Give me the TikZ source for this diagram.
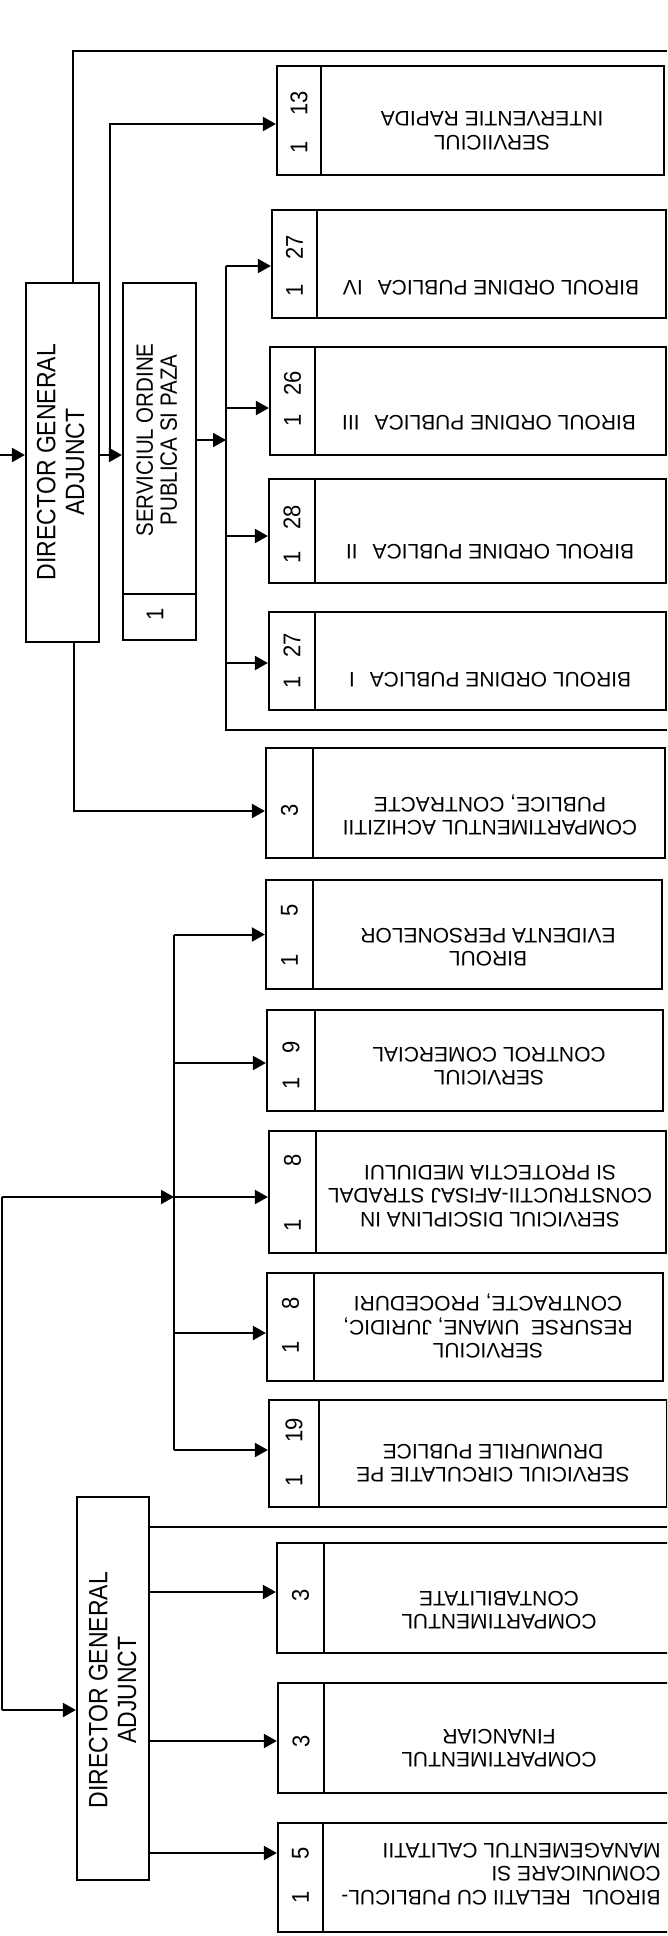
\documentclass[tikz,border=0pt]{standalone}
\usepackage{fontspec}
\setmainfont{Liberation Sans}
\usetikzlibrary{arrows.meta,fit,calc}
\newcommand\boxfont{\fontsize{21}{23.5}\selectfont}
\newcommand\dgfont{\fontsize{23}{25}\selectfont}
\newcommand\sopfont{\fontsize{20.5}{21}\selectfont}
\newcommand\numfont{\fontsize{22}{24}\selectfont}
\newcommand\vstretch[2]{\scalebox{1}[#1]{\begin{tabular}{@{}c@{}}#2\end{tabular}}}
\newcommand\orgbox[6]{%
  \node[ubox, fit={(#2,#4) (#3,#5)}] (#1) {};
  \draw[ubline] (#6,#4) -- (#6,#5);}
\newcommand\busarrow[3]{%
  \coordinate (#1t) at ([yshift=#3]#1.west);
  \draw[arr] (#1t -| #2) -- (#1t);}
\begin{document}
\begin{tikzpicture}[x=1pt,y=-1pt,
  ubox/.style={draw,line width=2.2pt,inner sep=0pt},
  ubline/.style={line width=2pt},
  conn/.style={line width=2pt},
  arr/.style={conn,-{Triangle[length=13pt,width=14pt]}},
  btext/.style={rotate=180,font=\boxfont,align=center,inner sep=0pt},
  btextl/.style={rotate=180,font=\boxfont,align=left,inner sep=0pt},
  numst/.style={rotate=90,font=\numfont,inner sep=0pt},
  dgst/.style={rotate=90,font=\dgfont,inner sep=0pt},
  sopst/.style={rotate=90,font=\sopfont,inner sep=0pt}]
\useasboundingbox (0,0) rectangle (667,1936);
\clip (0,0) rectangle (667,1936);
\fill[white] (0,0) rectangle (667,1936);

% director boxes
\node[ubox, fit={(26,283) (99,642)}] (dg1) {};
\node[dgst] (dg1t) at (64,462) {\vstretch{1.15}{DIRECTOR GENERAL\\ADJUNCT}};
\node[ubox, fit={(77,1497) (149,1880)}] (dg2) {};
\node[dgst] (dg2t) at (116,1690) {\vstretch{1.15}{DIRECTOR GENERAL\\ADJUNCT}};

% serviciul ordine publica si paza
\node[ubox, fit={(123,283) (196,640)}] (sop) {};
\draw[ubline] (123,594) -- (196,594);
\node[sopst] (sopt) at (160,440) {\vstretch{1.15}{SERVICIUL ORDINE\\PUBLICA SI PAZA}};
\node[numst] (sopn) at (155,614) {\scalebox{1}[1.1]{1}};

% subordinate boxes
\orgbox{sir}{277}{664}{66}{175}{321}
\orgbox{bop4}{272}{666}{210}{318}{317}
\orgbox{bop3}{270}{666}{347}{455}{315}
\orgbox{bop2}{269}{666}{479}{583}{315}
\orgbox{bop1}{269}{666}{612}{710}{315}
\orgbox{ach}{266}{665}{748}{858}{313}
\orgbox{bep}{266}{662}{880}{989}{313}
\orgbox{scc}{267}{663}{1010}{1111}{315}
\orgbox{sdc}{269}{666}{1131}{1253}{316}
\orgbox{sru}{267}{663}{1273}{1381}{314}
\orgbox{scp}{269}{667}{1400}{1507}{319}
\orgbox{contab}{277}{672}{1543}{1653}{324}
\orgbox{fin}{278}{672}{1683}{1793}{324}
\orgbox{brp}{278}{672}{1823}{1932}{323}

% box texts
\node[btext] (sirt) at (492,131) {SERVIICIUL\\INTERVENTIE RAPIDA};
\node[btext] (bop4t) at (491,288) {BIROUL ORDINE PUBLICA\hspace{15pt}IV};
\node[btext] (bop3t) at (489,423) {BIROUL ORDINE PUBLICA\hspace{15pt}III};
\node[btext] (bop2t) at (490,552) {BIROUL ORDINE PUBLICA\hspace{15pt}II};
\node[btext] (bop1t) at (490,680) {BIROUL ORDINE PUBLICA\hspace{15pt}I};
\node[btext] (acht) at (490,815) {COMPARTIMENTUL ACHIZITII\\PUBLICE, CONTRACTE};
\node[btext] (bept) at (488,947) {BIROUL\\EVIDENTA PERSONELOR};
\node[btext] (scct) at (489,1066) {SERVICIUL\\CONTROL COMERCIAL};
\node[btext] (sdct) at (490,1196) {SERVICIUL DISCIPLINA IN\\CONSTRUCTII-AFISAJ STRADAL\\SI PROTECTIA MEDIULUI};
\node[btext] (srut) at (488,1326) {SERVICIUL\\RESURSE\ \ UMANE, JURIDIC,\\CONTRACTE, PROCEDURI};
\node[btext] (scpt) at (493,1463) {SERVICIUL CIRCULATIE PE\\DRUMURILE PUBLICE};
\node[btext] (contabt) at (499,1610) {COMPARTIMENTUL\\CONTABILITATE};
\node[btext] (fint) at (499,1748) {COMPARTIMENTUL\\FINANCIAR};
\node[btextl] (brpt) at (501,1874) {BIROUL\ \ RELATII CU PUBLICUL-\\COMUNICARE SI\\MANAGEMENTUL CALITATII};

% numbers
\node[numst] (sirn1) at (299,147) {\scalebox{1}[1.1]{1}};
\node[numst] (sirn2) at (299,103) {\scalebox{1}[1.1]{13}};
\node[numst] (bop4n1) at (294.5,290) {\scalebox{1}[1.1]{1}};
\node[numst] (bop4n2) at (294.5,247) {\scalebox{1}[1.1]{27}};
\node[numst] (bop3n1) at (292.5,420) {\scalebox{1}[1.1]{1}};
\node[numst] (bop3n2) at (292.5,383) {\scalebox{1}[1.1]{26}};
\node[numst] (bop2n1) at (292,557) {\scalebox{1}[1.1]{1}};
\node[numst] (bop2n2) at (292,517) {\scalebox{1}[1.1]{28}};
\node[numst] (bop1n1) at (292,682) {\scalebox{1}[1.1]{1}};
\node[numst] (bop1n2) at (292,645) {\scalebox{1}[1.1]{27}};
\node[numst] (achn) at (289.5,810) {\scalebox{1}[1.1]{3}};
\node[numst] (bepn1) at (289.5,960) {\scalebox{1}[1.1]{1}};
\node[numst] (bepn2) at (289.5,910) {\scalebox{1}[1.1]{5}};
\node[numst] (sccn1) at (291,1083) {\scalebox{1}[1.1]{1}};
\node[numst] (sccn2) at (291,1047) {\scalebox{1}[1.1]{9}};
\node[numst] (sdcn1) at (292.5,1225) {\scalebox{1}[1.1]{1}};
\node[numst] (sdcn2) at (292.5,1160) {\scalebox{1}[1.1]{8}};
\node[numst] (srun1) at (290.5,1347) {\scalebox{1}[1.1]{1}};
\node[numst] (srun2) at (290.5,1303) {\scalebox{1}[1.1]{8}};
\node[numst] (scpn1) at (294,1480) {\scalebox{1}[1.1]{1}};
\node[numst] (scpn2) at (294,1430) {\scalebox{1}[1.1]{19}};
\node[numst] (contabn) at (300.5,1595) {\scalebox{1}[1.1]{3}};
\node[numst] (finn) at (301,1741) {\scalebox{1}[1.1]{3}};
\node[numst] (brpn1) at (300.5,1897) {\scalebox{1}[1.1]{1}};
\node[numst] (brpn2) at (300.5,1853) {\scalebox{1}[1.1]{5}};

% connectors
\coordinate (topR) at (667,51);
\draw[conn] ([xshift=10.5pt]dg1.north) |- (topR);
\coordinate (inA) at (0,455);
\draw[arr] (inA) -- (inA -| dg1.west);
\draw[arr] (inA -| dg1.east) -- (inA -| sop.west);
\coordinate (jA) at (110,455);
\coordinate (sirt0) at ([yshift=-3.5pt]sir.west);
\draw[arr] (jA) |- (sirt0);

\coordinate (busX) at (226,0);
\coordinate (busB) at (226,730);
\coordinate (busR) at (667,730);
\coordinate (sopo) at ([yshift=21.5pt]sop.east);
\draw[arr] (sopo) -- (sopo -| busX);
\busarrow{bop4}{busX}{-2pt}
\busarrow{bop3}{busX}{-7pt}
\busarrow{bop2}{busX}{-5pt}
\busarrow{bop1}{busX}{-2pt}
\draw[conn] (bop4t -| busX) -- (busB) -- (busR);

\coordinate (achq) at ([yshift=-8pt]ach.west);
\draw[arr] ([xshift=11.5pt]dg1.south) |- (achq);

\coordinate (bus2X) at (174,0);
\busarrow{bep}{bus2X}{0pt}
\busarrow{scc}{bus2X}{-2.5pt}
\busarrow{sdc}{bus2X}{-5pt}
\busarrow{sru}{bus2X}{-6pt}
\busarrow{scp}{bus2X}{3.5pt}
\draw[conn] (bept -| bus2X) -- (scpt -| bus2X);

\coordinate (inB) at (1.5,1197);
\coordinate (inC) at (1.5,1710);
\draw[arr] (inB) -- (inB -| bus2X);
\draw[conn] (inB) -- (inC);
\draw[arr] (inC) -- (inC -| dg2.west);

\coordinate (dg2R) at (667,1527);
\draw[conn] (dg2R -| dg2.east) -- (dg2R);
\coordinate (contabq) at ([yshift=6pt]contab.west);
\draw[arr] (contabq -| dg2.east) -- (contabq);
\coordinate (finq) at ([yshift=-3pt]fin.west);
\draw[arr] (finq -| dg2.east) -- (finq);
\coordinate (brpq) at ([yshift=24.5pt]brp.west);
\draw[arr] (brpq -| dg2.east) -- (brpq);
\end{tikzpicture}
\end{document}
